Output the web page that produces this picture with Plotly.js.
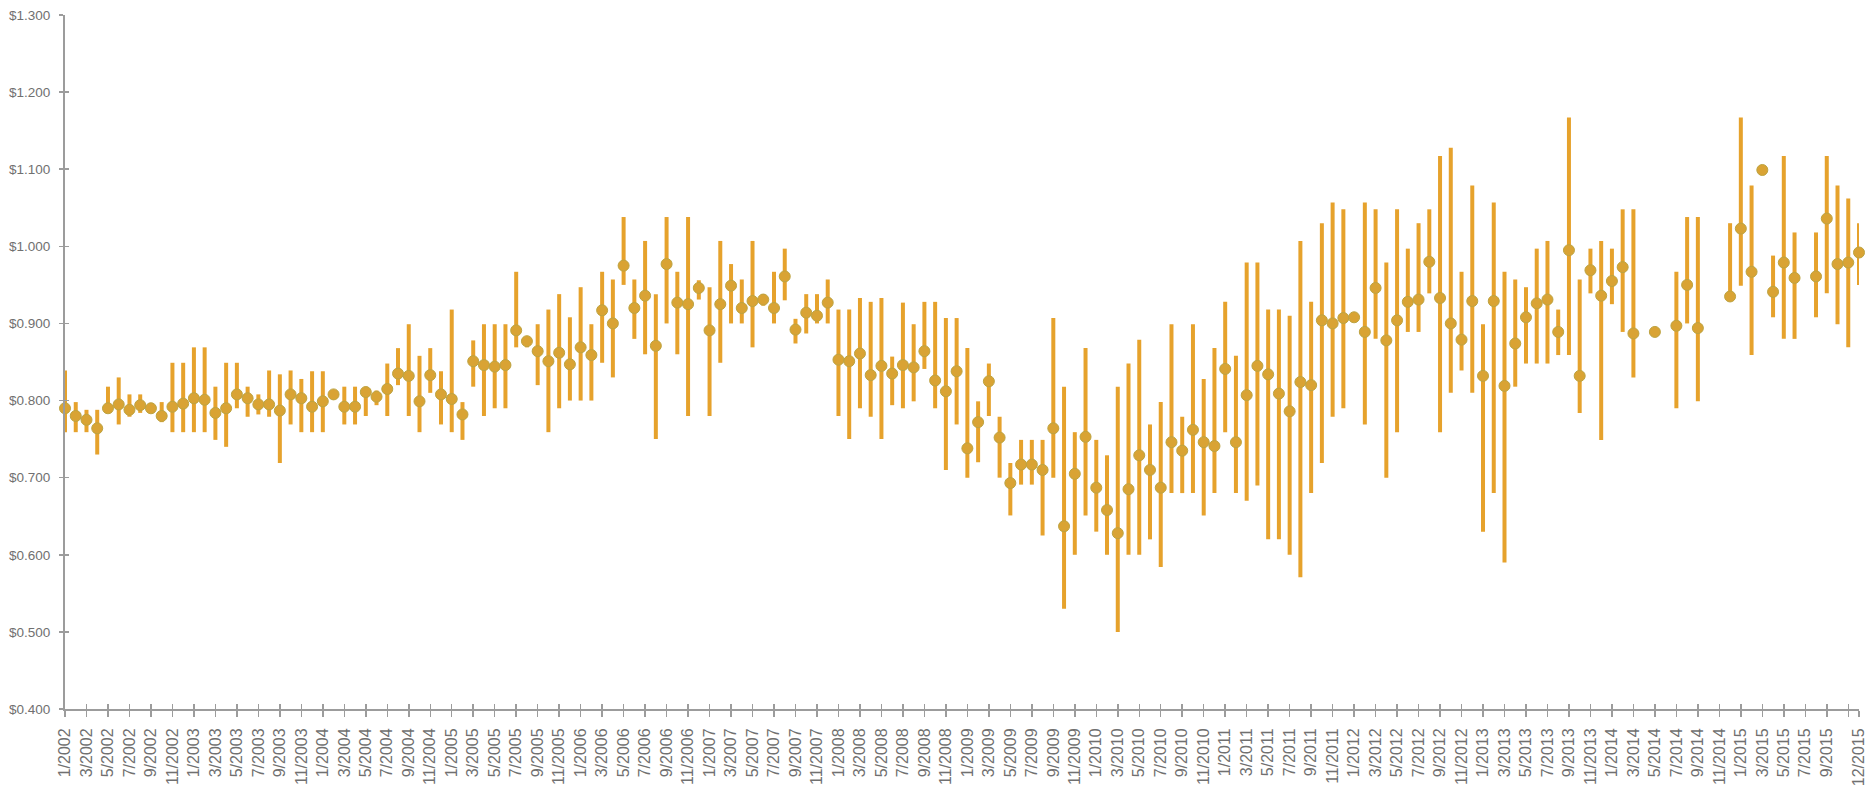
<!DOCTYPE html>
<html>
<head>
<meta charset="utf-8">
<script src="https://cdn.plot.ly/plotly-3.0.1.min.js"></script>
<style>
  html, body { margin: 0; padding: 0; background: #fff; }
  #chart { width: 1868px; height: 796px; }
</style>
</head>
<body>
<div id="chart"></div>
<script>
// Categories: monthly, 1/2002 .. 12/2015
const years = [2002, 2003, 2004, 2005, 2006, 2007, 2008, 2009, 2010, 2011, 2012, 2013, 2014, 2015];
const monthNums = [1, 2, 3, 4, 5, 6, 7, 8, 9, 10, 11, 12];
const months = [];
years.forEach(y => monthNums.forEach(m => months.push(m + '/' + y)));

// Average price (dot), one row per year
const price = [
  0.790, 0.780, 0.775, 0.764, 0.790, 0.795, 0.788, 0.794, 0.790, 0.780, 0.792, 0.796, // 2002
  0.803, 0.801, 0.784, 0.790, 0.808, 0.803, 0.795, 0.795, 0.787, 0.808, 0.803, 0.792, // 2003
  0.799, 0.808, 0.792, 0.792, 0.811, 0.805, 0.815, 0.835, 0.832, 0.799, 0.833, 0.808, // 2004
  0.802, 0.782, 0.851, 0.846, 0.844, 0.846, 0.891, 0.877, 0.864, 0.851, 0.862, 0.847, // 2005
  0.869, 0.859, 0.917, 0.900, 0.975, 0.920, 0.936, 0.871, 0.977, 0.927, 0.925, 0.946, // 2006
  0.891, 0.925, 0.949, 0.920, 0.929, 0.931, 0.920, 0.961, 0.892, 0.914, 0.910, 0.927, // 2007
  0.853, 0.851, 0.861, 0.833, 0.845, 0.835, 0.846, 0.843, 0.864, 0.826, 0.812, 0.838, // 2008
  0.738, 0.772, 0.825, 0.752, 0.693, 0.717, 0.717, 0.710, 0.764, 0.637, 0.705, 0.753, // 2009
  0.687, 0.658, 0.628, 0.685, 0.729, 0.710, 0.687, 0.746, 0.735, 0.762, 0.746, 0.741, // 2010
  0.841, 0.746, 0.807, 0.845, 0.834, 0.809, 0.786, 0.824, 0.820, 0.904, 0.900, 0.907, // 2011
  0.908, 0.889, 0.946, 0.878, 0.904, 0.928, 0.931, 0.980, 0.933, 0.900, 0.879, 0.929, // 2012
  0.832, 0.929, 0.819, 0.874, 0.908, 0.926, 0.931, 0.889, 0.995, 0.832, 0.969, 0.936, // 2013
  0.955, 0.973, 0.887, null,  0.889, null,  0.897, 0.950, 0.894, null,  null,  0.935, // 2014
  1.023, 0.967, 1.099, 0.941, 0.979, 0.959, null,  0.961, 1.036, 0.977, 0.979, 0.992  // 2015
];

// Highest price (top of bar)
const high = [
  0.839, 0.798, 0.788, 0.788, 0.818, 0.830, 0.808, 0.808, 0.797, 0.798, 0.849, 0.849, // 2002
  0.869, 0.869, 0.818, 0.849, 0.849, 0.818, 0.808, 0.839, 0.834, 0.839, 0.828, 0.838, // 2003
  0.838, 0.813, 0.818, 0.818, 0.818, 0.813, 0.848, 0.868, 0.899, 0.858, 0.868, 0.838, // 2004
  0.918, 0.798, 0.878, 0.899, 0.899, 0.899, 0.967, 0.882, 0.899, 0.918, 0.938, 0.908, // 2005
  0.947, 0.899, 0.967, 0.957, 1.038, 0.957, 1.007, 0.938, 1.038, 0.967, 1.038, 0.956, // 2006
  0.947, 1.007, 0.977, 0.957, 1.007, 0.938, 0.967, 0.997, 0.906, 0.938, 0.938, 0.957, // 2007
  0.918, 0.918, 0.933, 0.928, 0.933, 0.857, 0.927, 0.899, 0.928, 0.928, 0.907, 0.907, // 2008
  0.868, 0.799, 0.848, 0.779, 0.719, 0.749, 0.749, 0.749, 0.907, 0.818, 0.759, 0.868, // 2009
  0.749, 0.729, 0.818, 0.848, 0.879, 0.769, 0.798, 0.899, 0.779, 0.899, 0.828, 0.868, // 2010
  0.928, 0.858, 0.979, 0.979, 0.918, 0.918, 0.910, 1.007, 0.928, 1.030, 1.057, 1.048, // 2011
  0.913, 1.057, 1.048, 0.979, 1.048, 0.997, 1.030, 1.048, 1.117, 1.128, 0.967, 1.079, // 2012
  0.899, 1.057, 0.967, 0.957, 0.947, 0.997, 1.007, 0.918, 1.167, 0.957, 0.997, 1.007, // 2013
  0.997, 1.048, 1.048, null,  0.889, null,  0.967, 1.038, 1.038, null,  null,  1.030, // 2014
  1.167, 1.079, 1.099, 0.988, 1.117, 1.018, null,  1.018, 1.117, 1.079, 1.062, 1.030  // 2015
];

// Lowest price (bottom of bar)
const low = [
  0.759, 0.759, 0.759, 0.730, 0.784, 0.769, 0.779, 0.784, 0.785, 0.772, 0.759, 0.759, // 2002
  0.759, 0.759, 0.749, 0.740, 0.790, 0.779, 0.782, 0.779, 0.719, 0.769, 0.759, 0.759, // 2003
  0.759, 0.803, 0.769, 0.769, 0.780, 0.794, 0.780, 0.820, 0.780, 0.759, 0.810, 0.769, // 2004
  0.759, 0.749, 0.818, 0.780, 0.790, 0.790, 0.869, 0.869, 0.820, 0.759, 0.790, 0.800, // 2005
  0.800, 0.800, 0.849, 0.830, 0.950, 0.880, 0.860, 0.750, 0.900, 0.860, 0.780, 0.931, // 2006
  0.780, 0.849, 0.900, 0.900, 0.869, 0.923, 0.900, 0.930, 0.874, 0.887, 0.900, 0.900, // 2007
  0.780, 0.750, 0.790, 0.779, 0.750, 0.794, 0.790, 0.799, 0.841, 0.790, 0.710, 0.769, // 2008
  0.700, 0.720, 0.780, 0.700, 0.651, 0.691, 0.691, 0.625, 0.700, 0.530, 0.600, 0.651, // 2009
  0.630, 0.600, 0.500, 0.600, 0.600, 0.620, 0.584, 0.680, 0.680, 0.680, 0.651, 0.680, // 2010
  0.759, 0.680, 0.670, 0.690, 0.620, 0.620, 0.600, 0.571, 0.680, 0.719, 0.779, 0.790, // 2011
  0.903, 0.769, 0.880, 0.700, 0.759, 0.889, 0.889, 0.939, 0.759, 0.810, 0.839, 0.810, // 2012
  0.630, 0.680, 0.590, 0.818, 0.848, 0.848, 0.848, 0.859, 0.859, 0.784, 0.939, 0.749, // 2013
  0.925, 0.889, 0.830, null,  0.889, null,  0.790, 0.900, 0.799, null,  null,  0.932, // 2014
  0.949, 0.859, 1.099, 0.908, 0.880, 0.880, null,  0.908, 0.939, 0.899, 0.869, 0.950  // 2015
];

// Tick labels: every second month, plus the final month (11/2015 tick left unlabeled)
const tickIdx = [];
const tickLabels = [];
months.forEach((m, i) => {
  if (i % 2 === 0 || i === months.length - 1) {
    tickIdx.push(i);
    tickLabels.push(i === months.length - 2 ? '' : m);
  }
});

const xIdx = months.map((_, i) => i);
const errPlus = price.map((p, i) => (p == null ? null : high[i] - p));
const errMinus = price.map((p, i) => (p == null ? null : p - low[i]));

const barColor = '#E6A22C';
const dotColor = '#D9A334';
const axisColor = '#9c9c9c';
const textColor = '#707070';
const fontFam = '"Liberation Sans", Arial, Helvetica, sans-serif';

const traces = [
  {
    type: 'scatter',
    mode: 'markers',
    x: xIdx,
    y: price,
    text: months,
    cliponaxis: false,
    marker: { size: 11, color: dotColor, line: { color: '#BDA340', width: 1 } },
    error_y: {
      type: 'data',
      symmetric: false,
      array: errPlus,
      arrayminus: errMinus,
      color: barColor,
      thickness: 4,
      width: 0
    },
    hovertemplate: '%{text}: $%{y:.3f}<extra></extra>',
    showlegend: false
  },
  {
    // helper trace so the overlay axes (inner half of the cross ticks) are drawn
    type: 'scatter',
    mode: 'markers',
    x: [0],
    y: [null],
    xaxis: 'x2',
    yaxis: 'y2',
    hoverinfo: 'skip',
    showlegend: false
  }
];

const commonX = {
  range: [0, months.length - 1],
  tickmode: 'array',
  tickvals: tickIdx,
  showgrid: false,
  zeroline: false,
  fixedrange: true
};
const commonY = {
  range: [0.4, 1.3],
  tickmode: 'linear',
  tick0: 0.4,
  dtick: 0.1,
  showgrid: false,
  zeroline: false,
  fixedrange: true
};

const layout = {
  width: 1868,
  height: 796,
  margin: { l: 65, r: 9, t: 15, b: 87 },
  paper_bgcolor: '#ffffff',
  plot_bgcolor: '#ffffff',
  showlegend: false,
  xaxis: Object.assign({}, commonX, {
    ticktext: tickLabels,
    tickangle: -90,
    ticks: 'outside',
    ticklen: 6,
    tickwidth: 1.5,
    tickcolor: axisColor,
    showline: true,
    linecolor: axisColor,
    linewidth: 2,
    ticklabelstandoff: 5,
    tickfont: { family: fontFam, size: 16, color: textColor }
  }),
  yaxis: Object.assign({}, commonY, {
    tickformat: '$.3f',
    ticks: 'outside',
    ticklen: 4,
    tickwidth: 1.5,
    tickcolor: axisColor,
    showline: true,
    linecolor: axisColor,
    linewidth: 2,
    ticklabelstandoff: 6,
    tickfont: { family: fontFam, size: 13.5, color: textColor }
  }),
  xaxis2: Object.assign({}, commonX, {
    overlaying: 'x',
    anchor: 'y2',
    side: 'bottom',
    ticks: 'inside',
    ticklen: 5,
    tickwidth: 1.5,
    tickcolor: axisColor,
    showline: false,
    showticklabels: false
  }),
  yaxis2: Object.assign({}, commonY, {
    overlaying: 'y',
    anchor: 'x2',
    side: 'left',
    ticks: 'inside',
    ticklen: 4,
    tickwidth: 1.5,
    tickcolor: axisColor,
    showline: false,
    showticklabels: false
  })
};

Plotly.newPlot('chart', traces, layout, { displayModeBar: false, staticPlot: true });
</script>
</body>
</html>
